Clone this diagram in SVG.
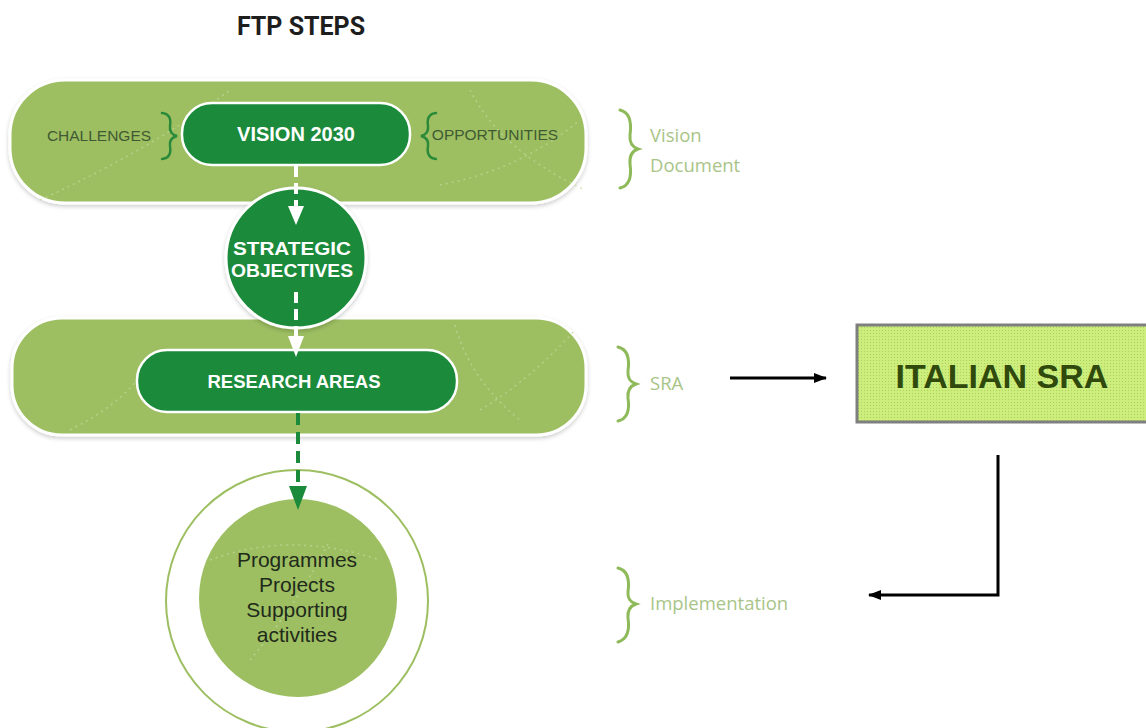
<svg xmlns="http://www.w3.org/2000/svg" width="1146" height="728" viewBox="0 0 1146 728">
<defs>
<style>
.band{fill:#9dbf62;stroke:#ffffff;stroke-width:3}
.pill{fill:#1b8a3b;stroke:#ffffff;stroke-width:2.5}
.wt{font-family:"Liberation Sans",Arial,sans-serif;font-weight:bold;fill:#ffffff;text-anchor:middle}
.lt{font-family:"Open Sans","Liberation Sans",sans-serif;fill:#a9c488;font-size:18.5px}
.side{font-family:"Liberation Sans",Arial,sans-serif;fill:#3f5a32;font-size:15.5px;text-anchor:middle}
.brace{fill:none;stroke:#8fba5a;stroke-width:3;stroke-linecap:round}
.dbrace{fill:none;stroke:#2a8a3a;stroke-width:2.5;stroke-linecap:round}
.tex{fill:none;stroke:#c2d99a;stroke-width:1.5;stroke-dasharray:2 4;opacity:0.7}
.blk{fill:none;stroke:#000000;stroke-width:3}
</style>
<pattern id="dots" width="3" height="3" patternUnits="userSpaceOnUse">
<rect width="3" height="3" fill="#cdee7c"/>
<rect width="1" height="1" fill="#a9d25a"/>
</pattern>
<marker id="ah" markerWidth="13" markerHeight="10" refX="12" refY="5" orient="auto" markerUnits="userSpaceOnUse">
<path d="M0,0 L13,5 L0,10 Z" fill="#000000"/>
</marker>
<filter id="sh" x="-10%" y="-10%" width="120%" height="130%">
<feDropShadow dx="0" dy="2" stdDeviation="2" flood-color="#000000" flood-opacity="0.2"/>
</filter>
</defs>
<rect width="1146" height="728" fill="#ffffff"/>

<text x="301" y="35" font-family="Roboto,'Liberation Sans',sans-serif" font-weight="bold" font-size="25" fill="#1e1e1e" text-anchor="middle">FTP STEPS</text>

<g id="band-vision">
<rect class="band" x="10" y="80" width="576" height="123" rx="55" filter="url(#sh)"/>
<path class="tex" d="M40,200 Q150,150 230,90"/>
<path class="tex" d="M470,90 Q500,150 585,190"/>
<path class="tex" d="M440,185 Q520,170 580,120"/>
<text class="side" x="99" y="141">CHALLENGES</text>
<path class="dbrace" d="M162,113 Q172,114 170,126 Q169,134 177,136 Q169,138 170,146 Q172,158 162,159"/>
<text class="side" x="495" y="140">OPPORTUNITIES</text>
<path class="dbrace" d="M436,113 Q426,114 428,126 Q429,134 421,136 Q429,138 428,146 Q426,158 436,159"/>
</g>

<g id="vision2030">
<rect class="pill" x="182" y="103" width="228" height="62" rx="30"/>
<text class="wt" x="296" y="141" font-size="20">VISION 2030</text>
</g>

<g id="band-sra">
<rect class="band" x="12" y="318" width="574" height="117" rx="50" filter="url(#sh)"/>
<path class="tex" d="M70,430 Q130,400 150,360"/>
<path class="tex" d="M455,325 Q470,380 520,420"/>
<path class="tex" d="M480,410 Q530,380 575,330"/>
</g>

<g id="strategic-objectives">
<circle cx="296" cy="258" r="70" fill="#1b8a3b" stroke="#ffffff" stroke-width="3" filter="url(#sh)"/>
<text class="wt" x="292" y="255" font-size="19" textLength="118" lengthAdjust="spacingAndGlyphs">STRATEGIC</text>
<text class="wt" x="292" y="277" font-size="19" textLength="122" lengthAdjust="spacingAndGlyphs">OBJECTIVES</text>
</g>

<g id="research-areas">
<rect class="pill" x="137" y="350" width="320" height="62" rx="30"/>
<text class="wt" x="294" y="388" font-size="18.5">RESEARCH AREAS</text>
</g>

<g id="implementation">
<circle cx="297" cy="601" r="131" fill="#ffffff" stroke="#9dbf62" stroke-width="2"/>
<circle cx="298" cy="598" r="99" fill="#9dbf62"/>
<path class="tex" d="M210,560 Q290,530 380,560"/>
<path class="tex" d="M250,660 Q300,600 330,540"/>
<g font-family="'Liberation Sans',Arial,sans-serif" font-size="21" fill="#1f2a1a" text-anchor="middle">
<text x="297" y="567">Programmes</text>
<text x="297" y="592">Projects</text>
<text x="297" y="617">Supporting</text>
<text x="297" y="642">activities</text>
</g>
</g>

<g id="label-vision-document">
<path class="brace" d="M620,110 Q633,113 630,135 Q629,146 638,149 Q629,152 630,164 Q633,185 620,188"/>
<text class="lt" x="650" y="142">Vision</text>
<text class="lt" x="650" y="172">Document</text>
</g>
<g id="label-sra">
<path class="brace" d="M618,347 Q631,350 628,371 Q627,381 636,384 Q627,387 628,398 Q631,418 618,421"/>
<text class="lt" x="650" y="390">SRA</text>
</g>
<g id="label-implementation">
<path class="brace" d="M618,568 Q631,571 628,592 Q627,601 636,604 Q627,607 628,618 Q631,638 618,642"/>
<text class="lt" x="650" y="610">Implementation</text>
</g>

<g id="italian-sra">
<rect x="857" y="325" width="292" height="97" fill="url(#dots)" stroke="#7f7f7f" stroke-width="3"/>
<text x="1002" y="388" font-family="'Liberation Sans',Arial,sans-serif" font-weight="bold" font-size="34" fill="#2f4a0c" text-anchor="middle">ITALIAN SRA</text>
</g>

<g id="connectors">
<line x1="296" y1="166" x2="296" y2="208" stroke="#ffffff" stroke-width="4" stroke-dasharray="11 6"/>
<path d="M288,206 L304,206 L296,225 Z" fill="#ffffff"/>
<line x1="296" y1="292" x2="296" y2="338" stroke="#ffffff" stroke-width="4" stroke-dasharray="11 6"/>
<path d="M288,336 L304,336 L296,357 Z" fill="#ffffff"/>
<line x1="298" y1="413" x2="298" y2="488" stroke="#1b8a3b" stroke-width="4" stroke-dasharray="12 7"/>
<path d="M289,486 L307,486 L298,510 Z" fill="#1b8a3b"/>
<line class="blk" x1="730" y1="378" x2="826" y2="378" marker-end="url(#ah)"/>
<polyline class="blk" points="998,455 998,595 869,595" marker-end="url(#ah)"/>
</g>
</svg>
